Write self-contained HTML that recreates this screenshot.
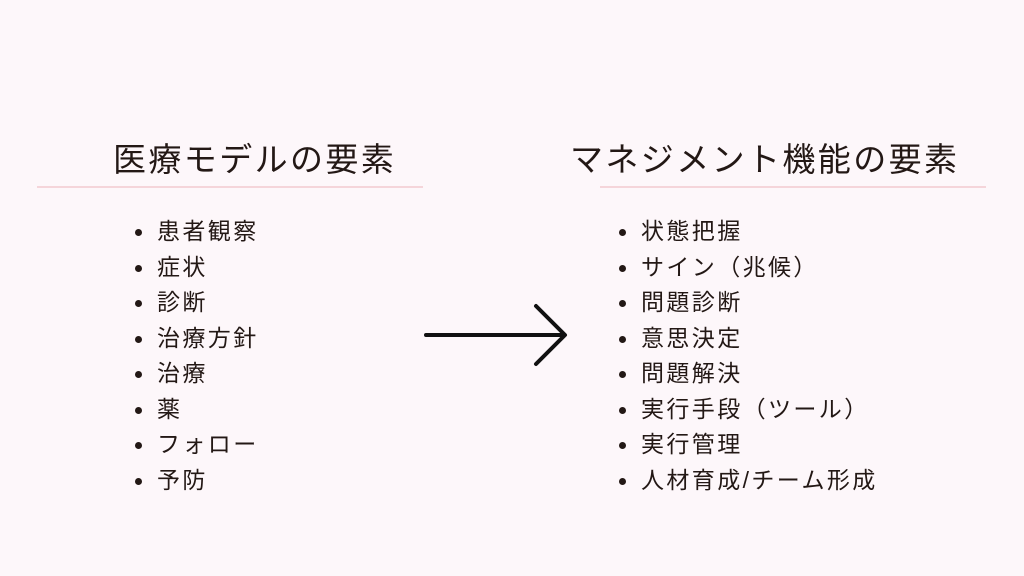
<!DOCTYPE html>
<html><head><meta charset="utf-8"><style>
body{margin:0;width:1024px;height:576px;background:#fdf7fa;font-family:"Liberation Sans","Noto Sans CJK JP",sans-serif;color:#231815;position:relative;overflow:hidden}
.t{position:absolute;font-size:33px;letter-spacing:2.4px;line-height:36px;top:142px;white-space:nowrap}
.ln{position:absolute;top:186px;height:2px;background:#f5d5da}
ul{position:absolute;margin:0;padding:0;list-style:none;top:214px}
li{font-size:23px;letter-spacing:2.4px;line-height:35.5px;height:35.5px;position:relative;padding-left:19px;white-space:nowrap}
li:before{content:"";position:absolute;left:-3px;top:15px;width:7px;height:7px;border-radius:50%;background:#231815}
</style></head><body>
<div class="t" style="left:113px">医療モデルの要素</div>
<div class="t" style="left:570px">マネジメント機能の要素</div>
<div class="ln" style="left:37px;width:386px"></div>
<div class="ln" style="left:600px;width:386px"></div>
<ul style="left:138px"><li>患者観察</li><li>症状</li><li>診断</li><li>治療方針</li><li>治療</li><li>薬</li><li>フォロー</li><li>予防</li></ul>
<ul style="left:622px"><li>状態把握</li><li>サイン（兆候）</li><li>問題診断</li><li>意思決定</li><li>問題解決</li><li>実行手段（ツール）</li><li>実行管理</li><li>人材育成/チーム形成</li></ul>
<svg style="position:absolute;left:0;top:0" width="1024" height="576"><g stroke="#111" stroke-width="4" fill="none" stroke-linecap="round" stroke-linejoin="round"><path d="M426 335H564M536 306L565 335L536 364"/></g></svg>
</body></html>
